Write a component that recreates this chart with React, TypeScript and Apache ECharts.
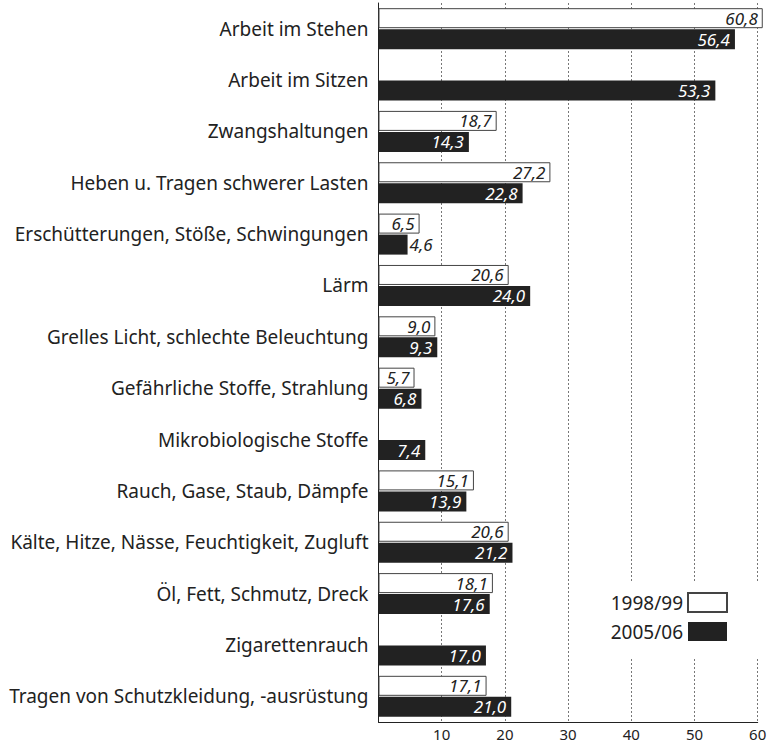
import React, { useEffect, useRef } from "react";
import * as echarts from "echarts";

const categories = [
  "Arbeit im Stehen",
  "Arbeit im Sitzen",
  "Zwangshaltungen",
  "Heben u. Tragen schwerer Lasten",
  "Erschütterungen, Stöße, Schwingungen",
  "Lärm",
  "Grelles Licht, schlechte Beleuchtung",
  "Gefährliche Stoffe, Strahlung",
  "Mikrobiologische Stoffe",
  "Rauch, Gase, Staub, Dämpfe",
  "Kälte, Hitze, Nässe, Feuchtigkeit, Zugluft",
  "Öl, Fett, Schmutz, Dreck",
  "Zigarettenrauch",
  "Tragen von Schutzkleidung, -ausrüstung",
];

const series1998 = [60.8, null, 18.7, 27.2, 6.5, 20.6, 9.0, 5.7, null, 15.1, 20.6, 18.1, null, 17.1];
const series2005 = [56.4, 53.3, 14.3, 22.8, 4.6, 24.0, 9.3, 6.8, 7.4, 13.9, 21.2, 17.6, 17.0, 21.0];

const seriesNames = ["1998/99", "2005/06"];
const xTicks = { min: 0, max: 60, interval: 10 };

const FONT = "'Noto Sans', sans-serif";

const fmt = (v: number) => v.toFixed(1).replace(".", ",");

export default function App() {
  const ref = useRef<HTMLDivElement>(null);
  useEffect(() => {
    if (!ref.current) return;
    const chart = echarts.init(ref.current, undefined, { renderer: "svg" });
    const labelBase = {
      show: true,
      position: "insideRight",
      distance: 5,
      fontFamily: FONT,
      fontStyle: "italic",
      fontSize: 17,
      lineHeight: 17,
      formatter: (p: any) => fmt(p.value),
    };
    chart.setOption({
      animation: false,
      backgroundColor: "#fff",
      grid: { left: 378.5, right: 12.3, top: 3, bottom: 22, containLabel: false },
      legend: {
        orient: "vertical",
        right: 7,
        top: 582,
        align: "right",
        icon: "rect",
        itemWidth: 39,
        itemHeight: 19,
        itemGap: 9,
        padding: [10, 35, 17, 25],
        backgroundColor: "#fff",
        textStyle: { fontFamily: FONT, fontSize: 19, color: "#222" },
        data: seriesNames,
      },
      xAxis: {
        type: "value",
        min: xTicks.min,
        max: xTicks.max,
        interval: xTicks.interval,
        axisLine: { show: true, lineStyle: { color: "#222", width: 1 } },
        axisTick: { show: false },
        axisLabel: {
          showMinLabel: false,
          fontFamily: FONT,
          fontSize: 15,
          color: "#222",
          margin: 4,
        },
        splitLine: { show: true, lineStyle: { color: "#777", type: [2, 2], width: 1 } },
      },
      yAxis: {
        type: "category",
        inverse: true,
        data: categories,
        axisLine: { show: true, lineStyle: { color: "#222", width: 1 } },
        axisTick: { show: false },
        axisLabel: { fontFamily: FONT, fontSize: 19, color: "#222", margin: 10 },
      },
      series: [
        {
          name: seriesNames[0],
          type: "bar",
          data: series1998,
          barWidth: 20,
          barGap: "5%",
          clip: false,
          itemStyle: { color: "#fff", borderColor: "#444", borderWidth: 1 },
          label: { ...labelBase, color: "#222" },
        },
        {
          name: seriesNames[1],
          type: "bar",
          data: series2005.map((v) =>
            v < 5
              ? { value: v, label: { position: "right", distance: 2, color: "#222" } }
              : v
          ),
          barWidth: 20,
          clip: false,
          itemStyle: { color: "#222" },
          label: { ...labelBase, color: "#fff" },
        },
      ],
    });
    return () => chart.dispose();
  }, []);
  return (
    <div
      ref={ref}
      style={{ position: "absolute", left: 0, top: 0, width: 770, height: 744 }}
    />
  );
}
